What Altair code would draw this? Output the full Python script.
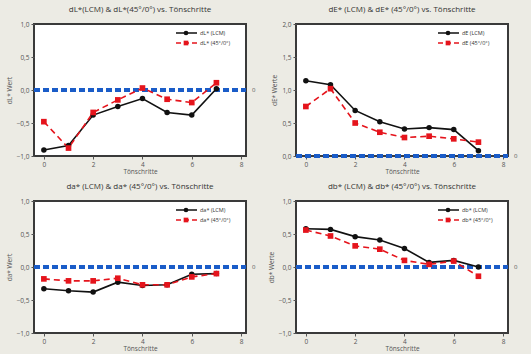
import altair as alt
import pandas as pd

steps = [0, 1, 2, 3, 4, 5, 6, 7]

dl_lcm = [-0.91, -0.84, -0.38, -0.25, -0.13, -0.34, -0.38, 0.02]
dl_ref = [-0.48, -0.88, -0.34, -0.15, 0.03, -0.14, -0.19, 0.11]

de_lcm = [1.14, 1.08, 0.69, 0.52, 0.41, 0.43, 0.40, 0.08]
de_ref = [0.75, 1.02, 0.50, 0.36, 0.28, 0.30, 0.26, 0.21]

da_lcm = [-0.33, -0.36, -0.38, -0.23, -0.28, -0.27, -0.11, -0.10]
da_ref = [-0.18, -0.21, -0.21, -0.17, -0.27, -0.27, -0.15, -0.10]

db_lcm = [0.58, 0.57, 0.46, 0.41, 0.28, 0.07, 0.10, 0.00]
db_ref = [0.56, 0.47, 0.32, 0.27, 0.10, 0.04, 0.09, -0.14]

x_ticks = [0, 2, 4, 6, 8]
y_ticks_pm = [-1.0, -0.5, 0.0, 0.5, 1.0]
y_ticks_de = [0.0, 0.5, 1.0, 1.5, 2.0]

W, H = 212, 132
GREY = "#555555"
FONT = "Open Sans"


def panel(title, ytitle, ydom, yticks, lcm, ref, lab_lcm, lab_ref):
    df = pd.DataFrame({
        "x": steps + steps,
        "y": lcm + ref,
        "s": ["LCM"] * len(steps) + ["REF"] * len(steps),
    })
    xsc = alt.Scale(domain=[-0.4, 8.2], nice=False, zero=False)
    ysc = alt.Scale(domain=ydom, nice=False, zero=False)
    xax = alt.Axis(values=x_ticks, title="Tönschritte", titlePadding=1)
    yax = alt.Axis(values=yticks, title=ytitle, titlePadding=4, labelOverlap=False,
                   labelExpr="replace(format(datum.value, '.1f'), '.', ',')")
    X = alt.X("x:Q", scale=xsc, axis=xax)
    Y = alt.Y("y:Q", scale=ysc, axis=yax)

    base = alt.Chart(df)
    zero = alt.Chart(pd.DataFrame({"y": [0.0]}))
    zline = zero.mark_rule(color="#1a5cc8", strokeWidth=4, strokeDash=[6, 3]).encode(
        y=Y, x=alt.value(0), x2=alt.value(W))
    ztxt = zero.mark_text(text="0", fontSize=6, color=GREY, align="left", font=FONT).encode(
        y=Y, x=alt.value(W + 6))

    l1 = base.transform_filter(alt.datum.s == "LCM").mark_line(
        color="#111111", strokeWidth=1.6).encode(x=X, y=Y)
    p1 = base.transform_filter(alt.datum.s == "LCM").mark_point(
        shape="circle", filled=True, size=30, color="#111111", opacity=1).encode(x=X, y=Y)
    l2 = base.transform_filter(alt.datum.s == "REF").mark_line(
        color="#e5141c", strokeWidth=1.6, strokeDash=[6, 4]).encode(x=X, y=Y)
    p2 = base.transform_filter(alt.datum.s == "REF").mark_point(
        shape="square", filled=True, size=32, color="#e5141c", opacity=1).encode(x=X, y=Y)

    leg = alt.Chart(pd.DataFrame({"lab": [lab_lcm, lab_ref]}))
    lg = []
    for i, (lab, col, shp, dash) in enumerate([
            (lab_lcm, "#111111", "circle", [1, 0]),
            (lab_ref, "#e5141c", "square", [5, 3])]):
        yy = 9 + 10 * i
        sub = leg.transform_filter(alt.datum.lab == lab)
        lg.append(sub.mark_rule(color=col, strokeWidth=1.4, strokeDash=dash).encode(
            x=alt.value(142), x2=alt.value(163), y=alt.value(yy)))
        lg.append(sub.mark_point(shape=shp, filled=True, size=22, color=col, opacity=1).encode(
            x=alt.value(152), y=alt.value(yy)))
        lg.append(sub.mark_text(align="left", baseline="middle", fontSize=5.5, color="#333333",
                                font=FONT).encode(
            x=alt.value(166), y=alt.value(yy), text="lab:N"))

    return alt.layer(zline, ztxt, l1, l2, p1, p2, *lg).properties(
        width=W, height=H,
        title=alt.TitleParams(title, fontSize=8, fontWeight="normal", color="#333333",
                              font=FONT, offset=7))


c1 = panel("dL*(LCM) & dL*(45°/0°) vs. Tönschritte", "dL* Wert", [-1, 1], y_ticks_pm,
           dl_lcm, dl_ref, "dL* (LCM)", "dL* (45°/0°)")
c2 = panel("dE* (LCM) & dE* (45°/0°) vs. Tönschritte", "dE* Werte", [0, 2], y_ticks_de,
           de_lcm, de_ref, "dE (LCM)", "dE (45°/0°)")
c3 = panel("da* (LCM) & da* (45°/0°) vs. Tönschritte", "da* Wert", [-1, 1], y_ticks_pm,
           da_lcm, da_ref, "da* (LCM)", "da* (45°/0°)")
c4 = panel("db* (LCM) &  db* (45°/0°) vs. Tönschritte", "db* Werte", [-1, 1], y_ticks_pm,
           db_lcm, db_ref, "db* (LCM)", "db* (45°/0°)")

chart = alt.concat(c1, c2, c3, c4, columns=2, spacing={"row": 45, "column": 50},
                   bounds="flush").properties(
    background="#ecebe4",
    padding={"left": 5, "top": 5, "right": 12, "bottom": 2},
).configure_view(
    stroke="#3a3a3a", strokeWidth=2, fill="white"
).configure_axis(
    domain=False, grid=False, tickColor=GREY, tickSize=3, tickWidth=1,
    labelFontSize=6.5, labelColor=GREY, labelFont=FONT, labelPadding=2,
    titleFontSize=6.5, titleFontWeight="normal", titleColor=GREY, titleFont=FONT,
)

chart.save("out.html", embed_options={"renderer": "svg", "actions": False})
